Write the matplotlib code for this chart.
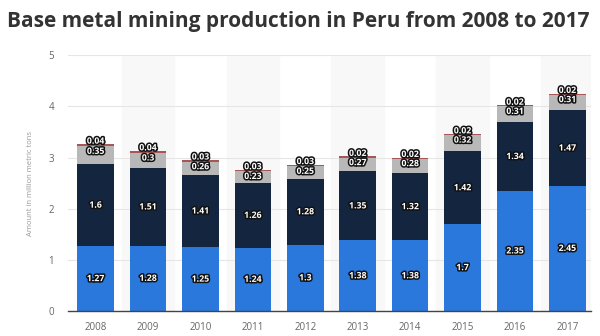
import numpy as np
import matplotlib.pyplot as plt
import matplotlib.patheffects as pe

# datos
years = ['2008', '2009', '2010', '2011', '2012', '2013', '2014', '2015', '2016', '2017']
copper = [1.27, 1.28, 1.25, 1.24, 1.3, 1.38, 1.38, 1.7, 2.35, 2.45]
zinc = [1.6, 1.51, 1.41, 1.26, 1.28, 1.35, 1.32, 1.42, 1.34, 1.47]
lead = [0.35, 0.3, 0.26, 0.23, 0.25, 0.27, 0.28, 0.32, 0.31, 0.31]
tin = [0.04, 0.04, 0.03, 0.03, 0.03, 0.02, 0.02, 0.02, 0.02, 0.02]

plt.rcParams['font.family'] = ['Open Sans', 'DejaVu Sans']

fig = plt.figure(figsize=(6, 3.36), dpi=100)
ax = fig.add_axes([0.113, 0.074, 0.872, 0.762])

x = np.arange(len(years))
w = 0.7

# bandas alternas de fondo
for i in x:
    if i % 2 == 1:
        ax.axvspan(i - 0.5, i + 0.5, color='#f8f8f8', zorder=0)

b1 = np.array(copper)
b2 = b1 + np.array(zinc)
b3 = b2 + np.array(lead)

ax.bar(x, copper, w, color='#2b78dc', zorder=2)
ax.bar(x, zinc, w, bottom=b1, color='#14263f', zorder=2)
ax.bar(x, lead, w, bottom=b2, color='#b8b8b8', zorder=2)
ax.bar(x, tin, w, bottom=b3, color='#a85555', zorder=2)

stroke = [pe.withStroke(linewidth=2.2, foreground='#111111')]
kw = dict(ha='center', va='center', color='white', fontsize=6.3,
          fontweight='bold', zorder=5, path_effects=stroke)

def fmt(v):
    return ('%g' % v)

for i in x:
    ax.text(i, copper[i] / 2, fmt(copper[i]), **kw)
    ax.text(i, b1[i] + zinc[i] / 2, fmt(zinc[i]), **kw)
    ax.text(i, b3[i] - 0.1, fmt(lead[i]), **kw)
    ax.text(i, b3[i] + tin[i] + 0.06, fmt(tin[i]), **kw)

ax.set_xlim(-0.53, 9.45)
ax.set_ylim(0, 5)
ax.set_yticks(range(6))
ax.set_xticks(x)
ax.set_xticklabels(years)
ax.yaxis.grid(True, color='#e6e6e6', linewidth=0.8, zorder=1)
ax.set_axisbelow(True)
for s in ['top', 'right', 'left']:
    ax.spines[s].set_visible(False)
ax.spines['bottom'].set_color('#444444')
ax.spines['bottom'].set_linewidth(1.0)
ax.tick_params(axis='both', length=0, labelsize=7, colors='#666666', pad=8)
ax.tick_params(axis='y', pad=10)
ax.set_ylabel('Amount in million metric tons', fontsize=5.5, color='#999999', labelpad=10)

fig.text(0.012, 0.935, 'Base metal mining production in Peru from 2008 to 2017',
         fontsize=15, fontweight='bold', color='#333333', ha='left', va='center')

fig.savefig('out.png', dpi=100)
